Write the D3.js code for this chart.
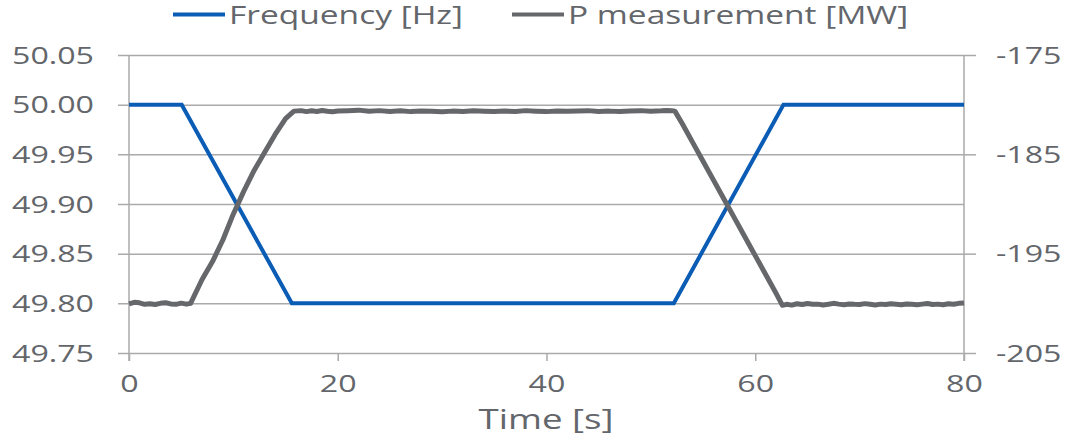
<!DOCTYPE html>
<html>
<head>
<meta charset="utf-8">
<script src="https://cdn.jsdelivr.net/npm/d3@7"></script>
<style>
  body { margin: 0; background: #fff; }
  text { font-family: "Open Sans", sans-serif; fill: #63666b; }
</style>
</head>
<body>
<div id="chart"></div>
<script>
// frequency trace (corner points)
const freqTime  = [0, 5.05, 15.6, 52.2, 62.7, 80];
const freqValue = [50.00, 50.00, 49.80, 49.80, 50.00, 50.00];

const pTime = [0, 0.5, 1, 1.5, 2, 2.5, 3, 3.5, 4, 4.5, 5, 5.5, 5.9,
  7, 8, 9, 10, 11, 12, 13, 14, 15, 15.8,
  16.5, 17, 17.5, 18, 18.5, 19, 19.5, 20, 21, 22, 23, 24, 25, 26, 27, 28, 29, 30, 31, 32, 33, 34,
  35, 36, 37, 38, 39, 40, 41, 42, 43, 44, 45, 46, 47, 48, 49, 50, 51, 51.5, 52, 52.3,
  53, 54, 55, 56, 57, 58, 59, 60, 61, 62, 62.6,
  63, 63.5, 64, 64.5, 65, 65.5, 66, 66.5, 67, 67.5, 68, 68.5, 69, 69.5, 70, 70.5, 71, 71.5,
  72, 72.5, 73, 73.5, 74, 74.5, 75, 75.5, 76, 76.5, 77, 77.5, 78, 78.5, 79, 79.5, 80];
const pValue = [-200.05, -199.9, -199.95, -200.1, -200.05, -200.12, -200.0, -199.94, -200.06, -200.1, -199.98, -200.08, -200.0,
  -197.6, -195.8, -193.6, -191.0, -188.7, -186.6, -184.8, -183.0, -181.4, -180.65,
  -180.6, -180.7, -180.62, -180.68, -180.58, -180.66, -180.72, -180.64,
  -180.6, -180.55, -180.66, -180.6, -180.68, -180.62, -180.7, -180.64, -180.66, -180.72, -180.65, -180.68, -180.62, -180.66,
  -180.7, -180.64, -180.68, -180.6, -180.66, -180.7, -180.63, -180.67, -180.64, -180.6, -180.68, -180.65, -180.7, -180.64, -180.6, -180.66, -180.62, -180.58, -180.6, -180.65,
  -181.9, -183.8, -185.7, -187.6, -189.5, -191.4, -193.3, -195.2, -197.1, -199.0, -200.2,
  -200.1, -200.18, -200.04, -200.12, -200.02, -200.1, -200.08, -200.16, -200.1, -200.0, -200.08, -200.14, -200.06, -200.1, -200.12, -200.03, -200.1, -200.16,
  -200.08, -200.12, -200.04, -200.1, -200.15, -200.06, -200.1, -200.14, -200.08, -200.02, -200.12, -200.08, -200.14, -200.05, -200.1, -200.0, -199.96];

const leftTicks  = [49.75, 49.80, 49.85, 49.90, 49.95, 50.00, 50.05];
const rightTicks = [-205, -195, -185, -175];
const xTicks     = [0, 20, 40, 60, 80];
const legendNames = ["Frequency [Hz]", "P measurement [MW]"];

const blue = "#0b5cb5", grey = "#65676b", gridCol = "#aaaaaa";
const W = 1071, H = 435;
const mLeft = 129, mRight = 964, mTop = 55, mBottom = 353;

const svg = d3.select("#chart").append("svg").attr("width", W).attr("height", H);

const x = d3.scaleLinear().domain([0, 80]).range([mLeft, mRight]);
const yL = d3.scaleLinear().domain([49.75, 50.05]).range([mBottom, mTop]);
const yR = d3.scaleLinear().domain([-205, -175]).range([mBottom, mTop]);

// the original text is drawn wide; widen ours by a factor taken from one sample string
const widthFactor = (sample, size, target) => {
  const t = svg.append("text").style("font-size", size + "px").text(sample);
  const k = target / t.node().getComputedTextLength();
  t.remove();
  return k;
};
const stretch = (sel, k) => sel.each(function () {
  const L = this.getComputedTextLength();
  d3.select(this).attr("textLength", L * k).attr("lengthAdjust", "spacingAndGlyphs");
});
const kTick = widthFactor("50.05", 23, 82);
const kLegend = widthFactor("Frequency [Hz]", 26, 234);
const kTitle = widthFactor("Time [s]", 28, 135);

// left axis + gridlines
const gL = svg.append("g").attr("transform", `translate(${mLeft},0)`)
  .call(d3.axisLeft(yL).tickValues(leftTicks).tickFormat(d3.format(".2f")).tickSize(0));
gL.select(".domain").remove();
gL.selectAll(".tick line").attr("x1", -11).attr("x2", mRight - mLeft)
  .attr("stroke", gridCol).attr("stroke-width", 1.5);
gL.selectAll(".tick text").attr("x", -35).attr("dy", "0.36em")
  .style("font-size", "23px").attr("fill", null).call(stretch, kTick);

// right axis
const gR = svg.append("g").attr("transform", `translate(${mRight},0)`)
  .call(d3.axisRight(yR).tickValues(rightTicks).tickFormat(d => String(d)).tickSize(12));
gR.select(".domain").remove();
gR.selectAll(".tick line").attr("stroke", gridCol).attr("stroke-width", 1.5);
gR.selectAll(".tick text").attr("x", 32).attr("dy", "0.36em")
  .style("font-size", "23px").attr("fill", null).call(stretch, kTick);

// bottom axis
const gB = svg.append("g").attr("transform", `translate(0,${mBottom})`)
  .call(d3.axisBottom(x).tickValues(xTicks).tickSize(8));
gB.select(".domain").remove();
gB.selectAll(".tick line").attr("stroke", gridCol).attr("stroke-width", 1.5);
gB.selectAll(".tick text").attr("y", 39).attr("dy", 0)
  .style("font-size", "23px").attr("fill", null).call(stretch, kTick);

// vertical axis lines
[mLeft, mRight].forEach(px => {
  svg.append("line").attr("x1", px).attr("x2", px).attr("y1", mTop).attr("y2", mBottom + 8)
    .attr("stroke", gridCol).attr("stroke-width", 1.5);
});

// series
const freqData = freqTime.map((t, i) => [t, freqValue[i]]);
const pData = pTime.map((t, i) => [t, pValue[i]]);

svg.append("path").datum(freqData)
  .attr("fill", "none").attr("stroke", blue).attr("stroke-width", 4)
  .attr("d", d3.line().x(d => x(d[0])).y(d => yL(d[1])));

svg.append("path").datum(pData)
  .attr("fill", "none").attr("stroke", grey).attr("stroke-width", 5)
  .attr("stroke-linejoin", "round")
  .attr("d", d3.line().x(d => x(d[0])).y(d => yR(d[1])));

// axis title
svg.append("text").attr("x", 546).attr("y", 429).attr("text-anchor", "middle")
  .style("font-size", "28px").text("Time [s]").call(stretch, kTitle);

// legend
const legendX = [173, 512];
const legendCol = [blue, grey];
legendNames.forEach((name, i) => {
  svg.append("line").attr("x1", legendX[i]).attr("x2", legendX[i] + 52)
    .attr("y1", 14.5).attr("y2", 14.5)
    .attr("stroke", legendCol[i]).attr("stroke-width", 4);
  svg.append("text").attr("x", legendX[i] + 56).attr("y", 24)
    .style("font-size", "26px").text(name).call(stretch, kLegend);
});
</script>
</body>
</html>
